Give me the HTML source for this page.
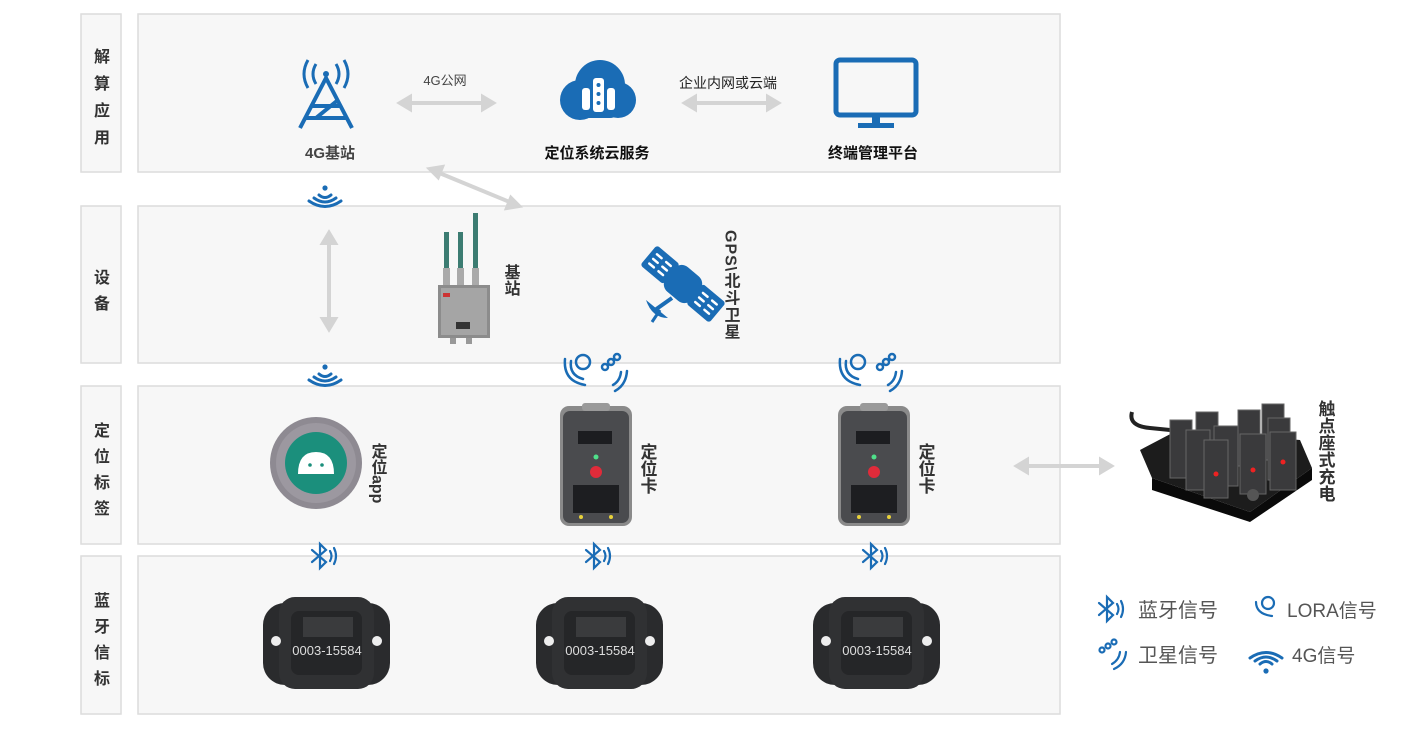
<!DOCTYPE html>
<html><head><meta charset="utf-8">
<style>
html,body{margin:0;padding:0;background:#fff;}
svg{display:block;font-family:"Liberation Sans","Noto Sans CJK SC",sans-serif;}
.v{writing-mode:vertical-rl;}
</style></head><body>
<svg width="1425" height="729" viewBox="0 0 1425 729" xmlns="http://www.w3.org/2000/svg">
<defs>
 <g id="wifi" fill="none" stroke="#1a6cb5" stroke-width="3" stroke-linecap="round">
  <circle cx="0" cy="-9" r="2.6" fill="#1a6cb5" stroke="none"/>
  <path d="M-6,-2 Q0,3 6,-2"/><path d="M-11,1 Q0,9 11,1"/><path d="M-16,4 Q0,15 16,4"/>
 </g>
 <g id="bt" fill="none" stroke="#1a6cb5" stroke-width="2.2" stroke-linecap="round">
  <path d="M-8,-6 L6,6 L0,12 L0,-12 L6,-6 L-8,6"/>
  <path d="M10,-5 Q13,0 10,5"/><path d="M14,-8 Q18,0 14,8"/>
 </g>
 <g id="lorasat" fill="none" stroke="#1a6cb5" stroke-width="2.5" stroke-linecap="round">
  <path d="M-26,-6 Q-28,8 -14,12"/><path d="M-32,-8 Q-34,14 -12,18"/>
  <circle cx="-14" cy="-5" r="7"/>
  <circle cx="8" cy="0" r="3"/><circle cx="14" cy="-5" r="3"/><circle cx="20" cy="-10" r="3"/>
  <path d="M24,5 Q23,14 16,18"/><path d="M30,4 Q29,18 18,24"/>
 </g>
 <g id="card">
  <rect x="0" y="0" width="72" height="120" rx="9" fill="#8a8a8a"/>
  <rect x="3" y="5" width="66" height="112" rx="7" fill="#4a4b4e"/>
  <rect x="22" y="-3" width="28" height="8" rx="3" fill="#9a9a9a"/>
  <rect x="18" y="25" width="34" height="13" fill="#1c1d20"/>
  <circle cx="36" cy="51" r="2.5" fill="#4fe08a"/>
  <circle cx="36" cy="66" r="6" fill="#e02b3a"/>
  <rect x="13" y="79" width="46" height="28" fill="#1d1e21"/>
  <circle cx="21" cy="111" r="2" fill="#e8d23a"/><circle cx="51" cy="111" r="2" fill="#e8d23a"/>
 </g>
 <g id="beacon">
  <rect x="0" y="6" width="127" height="82" rx="22" fill="#2a2b2d"/>
  <rect x="16" y="0" width="95" height="92" rx="16" fill="#303133"/>
  <rect x="28" y="14" width="71" height="64" rx="8" fill="#252628"/>
  <circle cx="13" cy="44" r="5" fill="#eee"/><circle cx="114" cy="44" r="5" fill="#eee"/>
  <text x="64" y="58" font-size="13" fill="#ddd" text-anchor="middle">0003-15584</text>
  <rect x="40" y="20" width="50" height="20" fill="#3a3b3d"/>
 </g>
</defs>

<g fill="#f7f7f7" stroke="#dcdcdc" stroke-width="1.5">
 <rect x="81" y="14" width="40" height="158"/><rect x="138" y="14" width="922" height="158"/>
 <rect x="81" y="206" width="40" height="157"/><rect x="138" y="206" width="922" height="157"/>
 <rect x="81" y="386" width="40" height="158"/><rect x="138" y="386" width="922" height="158"/>
 <rect x="81" y="556" width="40" height="158"/><rect x="138" y="556" width="922" height="158"/>
</g>
<g font-size="16" font-weight="bold" fill="#333" text-anchor="middle">
 <text x="102" y="62">解</text><text x="102" y="89">算</text><text x="102" y="116">应</text><text x="102" y="143">用</text>
 <text x="102" y="283">设</text><text x="102" y="309">备</text>
 <text x="102" y="436">定</text><text x="102" y="462">位</text><text x="102" y="488">标</text><text x="102" y="514">签</text>
 <text x="102" y="606">蓝</text><text x="102" y="632">牙</text><text x="102" y="658">信</text><text x="102" y="684">标</text>
</g>

<g fill="none" stroke="#1a6cb5" stroke-width="4" stroke-linejoin="round">
 <path d="M300,128 L326,78 L352,128"/><path d="M312,106 L340,106"/><path d="M306,118 L346,118"/><path d="M316,118 L338,100"/>
 <path d="M316,64 Q310,74 316,84" stroke-width="3"/><path d="M308,60 Q300,74 308,88" stroke-width="3"/>
 <path d="M336,64 Q342,74 336,84" stroke-width="3"/><path d="M344,60 Q352,74 344,88" stroke-width="3"/>
</g>
<circle cx="326" cy="74" r="3" fill="#1a6cb5"/>
<text x="330" y="158" font-size="15" font-weight="bold" fill="#444" text-anchor="middle">4G基站</text>
<text x="445" y="85" font-size="13" fill="#444" text-anchor="middle">4G公网</text>
<g stroke="#d4d4d4" stroke-width="4" fill="#d4d4d4">
 <line x1="406" y1="103" x2="487" y2="103"/><path d="M400,103 L410,97 L410,109Z"/><path d="M493,103 L483,97 L483,109Z"/>
 <line x1="691" y1="103" x2="772" y2="103"/><path d="M685,103 L695,97 L695,109Z"/><path d="M778,103 L768,97 L768,109Z"/>
 <line x1="437" y1="172" x2="512" y2="203"/><path d="M430,169 L442,167 L438,177Z"/><path d="M519,206 L507,208 L511,198Z"/>
 <line x1="329" y1="240" x2="329" y2="322"/><path d="M329,233 L323,243 L335,243Z"/><path d="M329,329 L323,319 L335,319Z"/>
 <line x1="1024" y1="466" x2="1104" y2="466"/><path d="M1017,466 L1027,460 L1027,472Z"/><path d="M1111,466 L1101,460 L1101,472Z"/>
</g>
<g fill="#1a6cb5">
 <circle cx="580" cy="100" r="20"/><circle cx="600" cy="85" r="25"/><circle cx="618" cy="100" r="18"/>
 <rect x="578" y="92" width="42" height="26" rx="10"/>
</g>
<g fill="#fff"><rect x="582" y="88" width="8" height="22" rx="3"/><rect x="593" y="78" width="11" height="34" rx="3"/><rect x="607" y="88" width="8" height="22" rx="3"/></g>
<g fill="#1a6cb5"><circle cx="598.5" cy="85" r="2"/><circle cx="598.5" cy="94" r="2"/><circle cx="598.5" cy="103" r="2"/></g>
<text x="597" y="158" font-size="15" font-weight="bold" fill="#111" text-anchor="middle">定位系统云服务</text>
<text x="728" y="88" font-size="14" fill="#222" text-anchor="middle">企业内网或云端</text>
<rect x="836" y="60" width="80" height="55" rx="4" fill="none" stroke="#1a6cb5" stroke-width="5"/>
<rect x="872" y="115" width="8" height="9" fill="#1a6cb5"/><rect x="858" y="123" width="36" height="5" fill="#1a6cb5"/>
<text x="873" y="158" font-size="15" font-weight="bold" fill="#111" text-anchor="middle">终端管理平台</text>

<use href="#wifi" x="325" y="197"/>
<g>
 <rect x="444" y="232" width="5" height="50" fill="#3c7c72"/><rect x="458" y="232" width="5" height="50" fill="#3c7c72"/><rect x="473" y="213" width="5" height="70" fill="#3c7c72"/>
 <rect x="443" y="268" width="7" height="18" fill="#aaa"/><rect x="457" y="268" width="7" height="18" fill="#aaa"/><rect x="472" y="268" width="7" height="18" fill="#aaa"/>
 <rect x="438" y="285" width="52" height="53" fill="#8c8c8c"/><rect x="441" y="288" width="46" height="47" fill="#a5a5a5"/>
 <rect x="443" y="293" width="7" height="4" fill="#c33"/><rect x="456" y="322" width="14" height="7" fill="#333"/>
 <rect x="450" y="338" width="6" height="6" fill="#999"/><rect x="466" y="338" width="6" height="6" fill="#999"/>
</g>
<text x="510" y="264" class="v" font-size="16" font-weight="bold" fill="#333">基站</text>
<!-- satellite -->
<g transform="rotate(40 683 284)" fill="#1a6cb5">
 <rect x="638" y="271" width="30" height="26" rx="3"/>
 <rect x="698" y="271" width="30" height="26" rx="3"/>
 <rect x="666" y="268" width="34" height="32" rx="10"/>
 <g stroke="#fff" stroke-width="2.5" stroke-linecap="round">
  <line x1="644" y1="278" x2="650" y2="278"/><line x1="656" y1="278" x2="662" y2="278"/>
  <line x1="644" y1="284" x2="650" y2="284"/><line x1="656" y1="284" x2="662" y2="284"/>
  <line x1="644" y1="290" x2="650" y2="290"/><line x1="656" y1="290" x2="662" y2="290"/>
  <line x1="704" y1="278" x2="710" y2="278"/><line x1="716" y1="278" x2="722" y2="278"/>
  <line x1="704" y1="284" x2="710" y2="284"/><line x1="716" y1="284" x2="722" y2="284"/>
  <line x1="704" y1="290" x2="710" y2="290"/><line x1="716" y1="290" x2="722" y2="290"/>
 </g>
</g>
<path d="M646,300 Q652,318 668,318 Z" fill="#1a6cb5"/>
<line x1="655" y1="310" x2="672" y2="298" stroke="#1a6cb5" stroke-width="4"/>
<line x1="652" y1="322" x2="660" y2="310" stroke="#1a6cb5" stroke-width="3"/>
<text x="730" y="230" class="v" font-size="16" font-weight="bold" fill="#333" letter-spacing="1">GPS\北斗卫星</text>

<use href="#wifi" x="325" y="376"/>
<use href="#lorasat" x="597" y="367"/>
<use href="#lorasat" x="872" y="367"/>

<circle cx="316" cy="463" r="46" fill="#8e8a92"/><circle cx="316" cy="463" r="40" fill="#9c98a0"/>
<circle cx="316" cy="463" r="31" fill="#1b8f7c"/>
<path d="M298,474 Q298,452 316,452 Q334,452 334,474Z" fill="#fff"/>
<circle cx="310" cy="465" r="1.8" fill="#1b8f7c"/><circle cx="322" cy="465" r="1.8" fill="#1b8f7c"/>
<text x="377" y="443" class="v" font-size="16" font-weight="bold" fill="#333">定位app</text>
<use href="#card" x="560" y="406"/>
<text x="647" y="443" class="v" font-size="17" font-weight="bold" fill="#333">定位卡</text>
<use href="#card" x="838" y="406"/>
<text x="925" y="443" class="v" font-size="17" font-weight="bold" fill="#333">定位卡</text>
<!-- charger -->
<path d="M1132,412 Q1128,426 1150,428 L1170,430" fill="none" stroke="#222" stroke-width="4"/>
<path d="M1140,450 L1178,430 L1300,440 L1312,468 L1250,512 L1152,478Z" fill="#1c1c1c"/>
<path d="M1152,478 L1250,512 L1312,468 L1312,480 L1250,522 L1152,490Z" fill="#0a0a0a"/>
<g fill="#3a3a3c" stroke="#666" stroke-width="1">
 <rect x="1170" y="420" width="22" height="58"/><rect x="1196" y="412" width="22" height="56"/><rect x="1262" y="404" width="22" height="56"/>
 <rect x="1238" y="410" width="22" height="56"/>
 <rect x="1186" y="430" width="24" height="60"/><rect x="1214" y="426" width="24" height="60"/><rect x="1268" y="418" width="22" height="62"/>
 <rect x="1204" y="440" width="24" height="58"/><rect x="1240" y="434" width="26" height="60"/>
 <rect x="1270" y="432" width="26" height="58"/>
</g>
<circle cx="1216" cy="474" r="2.5" fill="#e22"/><circle cx="1253" cy="470" r="2.5" fill="#e22"/><circle cx="1283" cy="462" r="2.5" fill="#e22"/>
<circle cx="1253" cy="495" r="6" fill="#555"/>
<text x="1325" y="400" class="v" font-size="17" font-weight="bold" fill="#333">触点座式充电</text>

<use href="#bt" x="320" y="556"/><use href="#bt" x="594" y="556"/><use href="#bt" x="871" y="556"/>
<use href="#beacon" x="263" y="597"/><use href="#beacon" x="536" y="597"/><use href="#beacon" x="813" y="597"/>

<use href="#bt" x="1107" y="609"/>
<text x="1138" y="617" font-size="20" fill="#555">蓝牙信号</text>
<g fill="none" stroke="#1a6cb5" stroke-width="2.2" stroke-linecap="round">
 <circle cx="1268" cy="603" r="6"/><path d="M1256,602 Q1256,614 1272,616"/>
 <circle cx="1102" cy="650" r="2.5"/><circle cx="1108" cy="646" r="2.5"/><circle cx="1114" cy="642" r="2.5"/>
 <path d="M1120,652 Q1119,660 1112,664"/><path d="M1126,652 Q1125,664 1114,669"/>
</g>
<text x="1287" y="617" font-size="19" fill="#555">LORA信号</text>
<text x="1138" y="662" font-size="20" fill="#555">卫星信号</text>
<g transform="translate(1266,662) rotate(180)"><use href="#wifi" x="0" y="0"/></g>
<text x="1292" y="662" font-size="19" fill="#555">4G信号</text>
</svg>
</body></html>
